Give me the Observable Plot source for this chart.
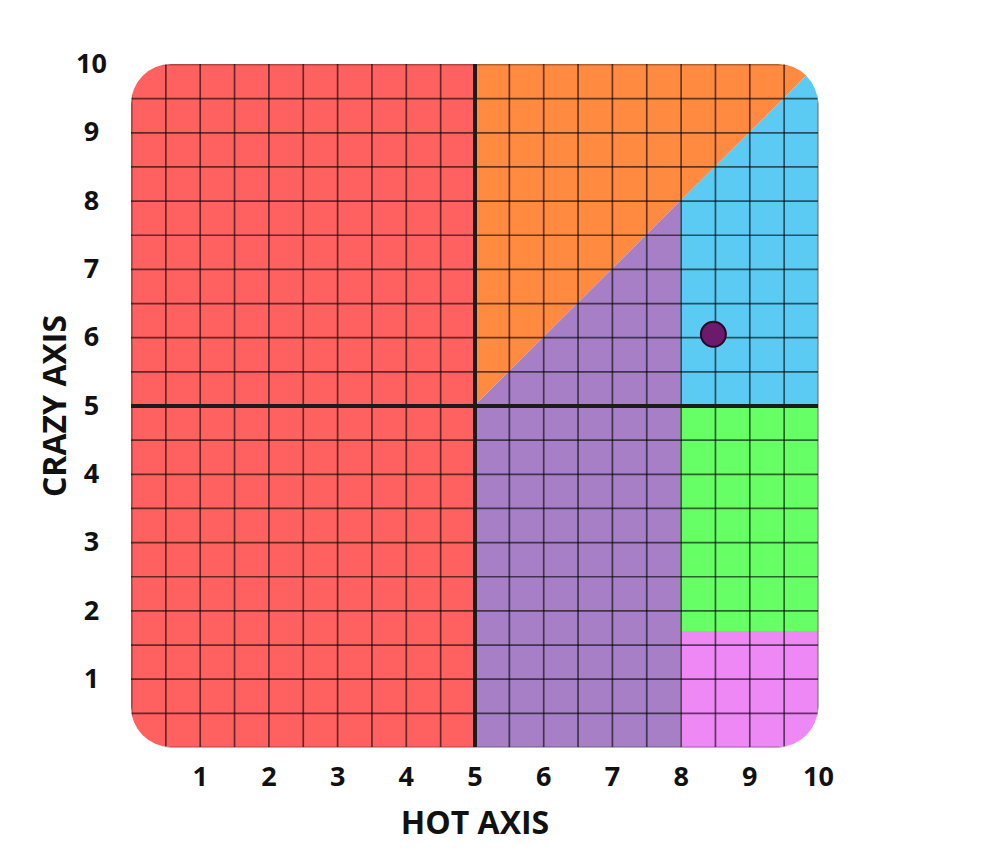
<!DOCTYPE html>
<html>
<head>
<meta charset="utf-8">
<script src="https://cdn.jsdelivr.net/npm/d3@7"></script>
<script src="https://cdn.jsdelivr.net/npm/@observablehq/plot@0.6"></script>
<style>
  html, body { margin: 0; padding: 0; background: #fff; }
  svg { font-family: "Open Sans", sans-serif; }
</style>
</head>
<body>
<div id="chart"></div>
<script>
// Regions: each is bounded left/right by x values, with lower/upper y at those x's
const regionNames = ["Zone A", "Zone B", "Zone C", "Zone D", "Zone E", "Zone F"];
const regionColors = ["#ff6161", "#ff8a40", "#a67fc6", "#5ccbf4", "#66ff66", "#ee88f5"];
const regionXStart = [0, 5, 5, 8, 8, 8];
const regionXEnd   = [5, 10, 8, 10, 10, 10];
const regionLowStart  = [0, 5, 0, 5, 1.7, 0];
const regionLowEnd    = [0, 10, 0, 5, 1.7, 0];
const regionHighStart = [10, 10, 5, 8, 5, 1.7];
const regionHighEnd   = [10, 10, 8, 10, 5, 1.7];

const xTicks = [1, 2, 3, 4, 5, 6, 7, 8, 9, 10];
const yTicks = [1, 2, 3, 4, 5, 6, 7, 8, 9, 10];
const gridValues = d3.range(0, 10.01, 0.5);
const dividerValues = [5];

const pointX = [8.47];
const pointY = [6.05];

const areaRows = [];
regionNames.forEach((name, i) => {
  areaRows.push({region: name, x: regionXStart[i], y1: regionLowStart[i], y2: regionHighStart[i]});
  areaRows.push({region: name, x: regionXEnd[i], y1: regionLowEnd[i], y2: regionHighEnd[i]});
});
const points = pointX.map((x, i) => ({x, y: pointY[i]}));

const chart = Plot.plot({
  width: 994,
  height: 854,
  marginLeft: 131,
  marginRight: 176,
  marginTop: 64,
  marginBottom: 107,
  x: {domain: [0, 10]},
  y: {domain: [0, 10]},
  color: {type: "ordinal", domain: regionNames, range: regionColors},
  style: {fontFamily: "Open Sans", background: "#fff"},
  marks: [
    Plot.areaY(areaRows, {x: "x", y1: "y1", y2: "y2", z: "region", fill: "region", curve: "linear"}),
    Plot.ruleX(gridValues, {x: d => d, y1: 0, y2: 10, stroke: "#000", strokeOpacity: 0.6, strokeWidth: 1.7}),
    Plot.ruleY(gridValues, {y: d => d, x1: 0, x2: 10, stroke: "#000", strokeOpacity: 0.6, strokeWidth: 1.7}),
    Plot.ruleX(dividerValues, {x: d => d, y1: 0, y2: 10, stroke: "#1c1c1c", strokeWidth: 4}),
    Plot.ruleY(dividerValues, {y: d => d, x1: 0, x2: 10, stroke: "#1c1c1c", strokeWidth: 4}),
    Plot.dot(points, {x: "x", y: "y", r: 12.5, fill: "#6b1a6c", stroke: "#240828", strokeWidth: 2}),
    Plot.axisX(xTicks, {anchor: "bottom", tickSize: 0, tickPadding: 19, tickFormat: "d", fontSize: 27, fontWeight: 700, fill: "#111", label: null}),
    Plot.axisY(yTicks, {anchor: "left", tickSize: 0, tickPadding: 40, tickFormat: "d", textAnchor: "middle", fontSize: 27, fontWeight: 700, fill: "#111", label: null}),
    Plot.text(["HOT AXIS"], {x: 5, frameAnchor: "bottom", dy: 86, text: d => d, fontSize: 32, fontWeight: 700, fill: "#111"}),
    Plot.text(["CRAZY AXIS"], {y: 5, frameAnchor: "left", textAnchor: "middle", dx: -76, rotate: -90, text: d => d, fontSize: 32, fontWeight: 700, fill: "#111"})
  ]
});

// Rounded-corner clip for the coloured field and grid
const sx = chart.scale("x"), sy = chart.scale("y");
const x0 = sx.apply(0), x1 = sx.apply(10), y0 = sy.apply(10), y1 = sy.apply(0);
const svg = d3.select(chart);
const clipId = "field-clip";
svg.insert("defs", ":first-child")
  .append("clipPath").attr("id", clipId)
  .append("rect")
  .attr("x", x0).attr("y", y0)
  .attr("width", x1 - x0).attr("height", y1 - y0)
  .attr("rx", 40).attr("ry", 40);
svg.selectAll('g[aria-label="area"], g[aria-label="rule"]').attr("clip-path", `url(#${clipId})`);

document.getElementById("chart").appendChild(chart);
</script>
</body>
</html>
